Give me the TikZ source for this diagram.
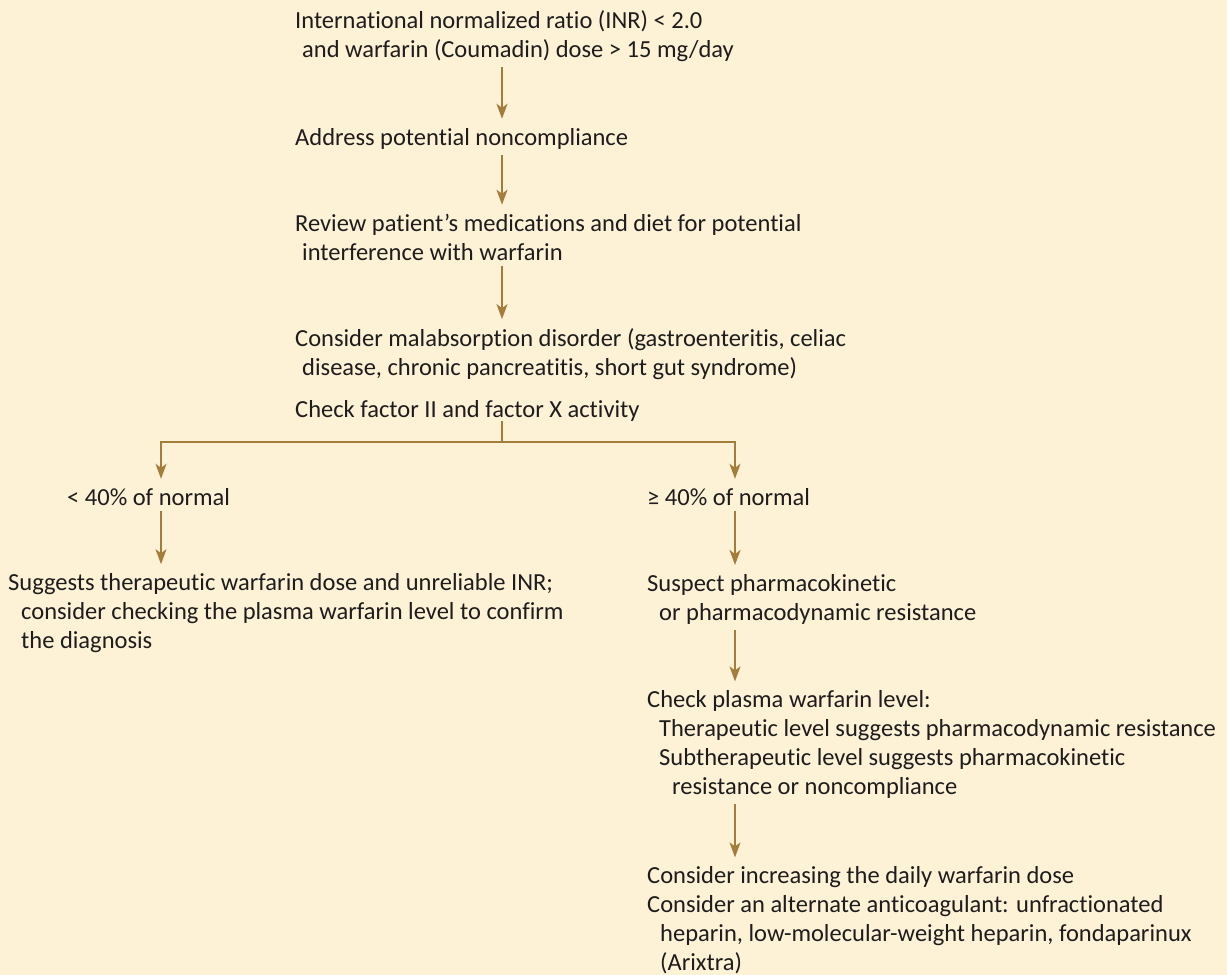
\documentclass[tikz,border=0pt]{standalone}
\usepackage{fontspec}
\setmainfont{Carlito}[Ligatures=NoCommon]
\usetikzlibrary{arrows.meta}
\definecolor{cream}{RGB}{253,242,214}
\definecolor{arrowbrown}{RGB}{164,124,60}
\definecolor{textblack}{RGB}{30,28,28}
\begin{document}
\begin{tikzpicture}[x=1pt,y=-1pt,
  txt/.style={anchor=base west,inner sep=0pt,align=left,text=textblack,font=\fontsize{24.5}{28.8}\selectfont},
  arr/.style={-{Stealth[length=15pt,width=11pt,inset=4pt]},line width=1.6pt,draw=arrowbrown,shorten <=6pt,shorten >=9pt},
  link/.style={line width=1.6pt,draw=arrowbrown}]
    \path [use as bounding box,fill=cream] (0,0) rectangle (1227,975);
    \coordinate (spine) at (502,0); \coordinate (lcol) at (161,0); \coordinate (rcol) at (735,0);
    \coordinate (fork) at (502,442);
%   (base = last line of each node)
    \node [txt] (inr) at (295,57) {International normalized ratio (INR) < 2.0\\\hspace*{7pt}and warfarin (Coumadin) dose > 15 mg/day};
    \node [txt] (addr) at (295,145) {Address potential noncompliance};
    \node [txt] (review) at (295,260) {Review patient’s medications and diet for potential\\\hspace*{7pt}interference with warfarin};
    \node [txt] (malab) at (295,375) {Consider malabsorption disorder (gastroenteritis, celiac\\\hspace*{7pt}disease, chronic pancreatitis, short gut syndrome)};
    \node [txt] (factors) at (295,417) {Check factor II and factor X activity};
%
    \node [txt] (low) at (67,505) {< 40\% of normal};
    \node [txt] (unrel) at (8,648) {Suggests therapeutic warfarin dose and unreliable INR;\\\hspace*{13pt}consider checking the plasma warfarin level to confirm\\\hspace*{13pt}the diagnosis};
%
    \node [txt] (high) at (647,505) {≥ 40\% of normal};
    \node [txt] (suspect) at (647,620) {Suspect pharmacokinetic\\\hspace*{12pt}or pharmacodynamic resistance};
    \node [txt] (plasma) at (647,794) {Check plasma warfarin level:\\\hspace*{12pt}Therapeutic level suggests pharmacodynamic resistance\\\hspace*{12pt}Subtherapeutic level suggests pharmacokinetic\\\hspace*{25pt}resistance or noncompliance};
    \node [txt] (dose) at (647,970) {Consider increasing the daily warfarin dose\\Consider an alternate anticoagulant: unfractionated\\\hspace*{13pt}heparin, low-molecular-weight heparin, fondaparinux\\\hspace*{13pt}(Arixtra)};
%
    \draw [arr] (inr.south -| spine) -- (addr.north -| spine);
    \draw [arr] (addr.south -| spine) -- (review.north -| spine);
    \draw [arr] (review.south -| spine) -- (malab.north -| spine);
%
    \draw [link] (factors.south -| spine) -- (fork);
    \draw [arr,shorten <=0pt] (fork) -| (low.north -| lcol);
    \draw [arr,shorten <=0pt] (fork) -| (high.north -| rcol);
%
    \draw [arr] (low.south -| lcol) -- (unrel.north -| lcol);
%
    \draw [arr] (high.south -| rcol) -- (suspect.north -| rcol);
    \draw [arr] (suspect.south -| rcol) -- (plasma.north -| rcol);
    \draw [arr] (plasma.south -| rcol) -- (dose.north -| rcol);
\end{tikzpicture}
\end{document}
